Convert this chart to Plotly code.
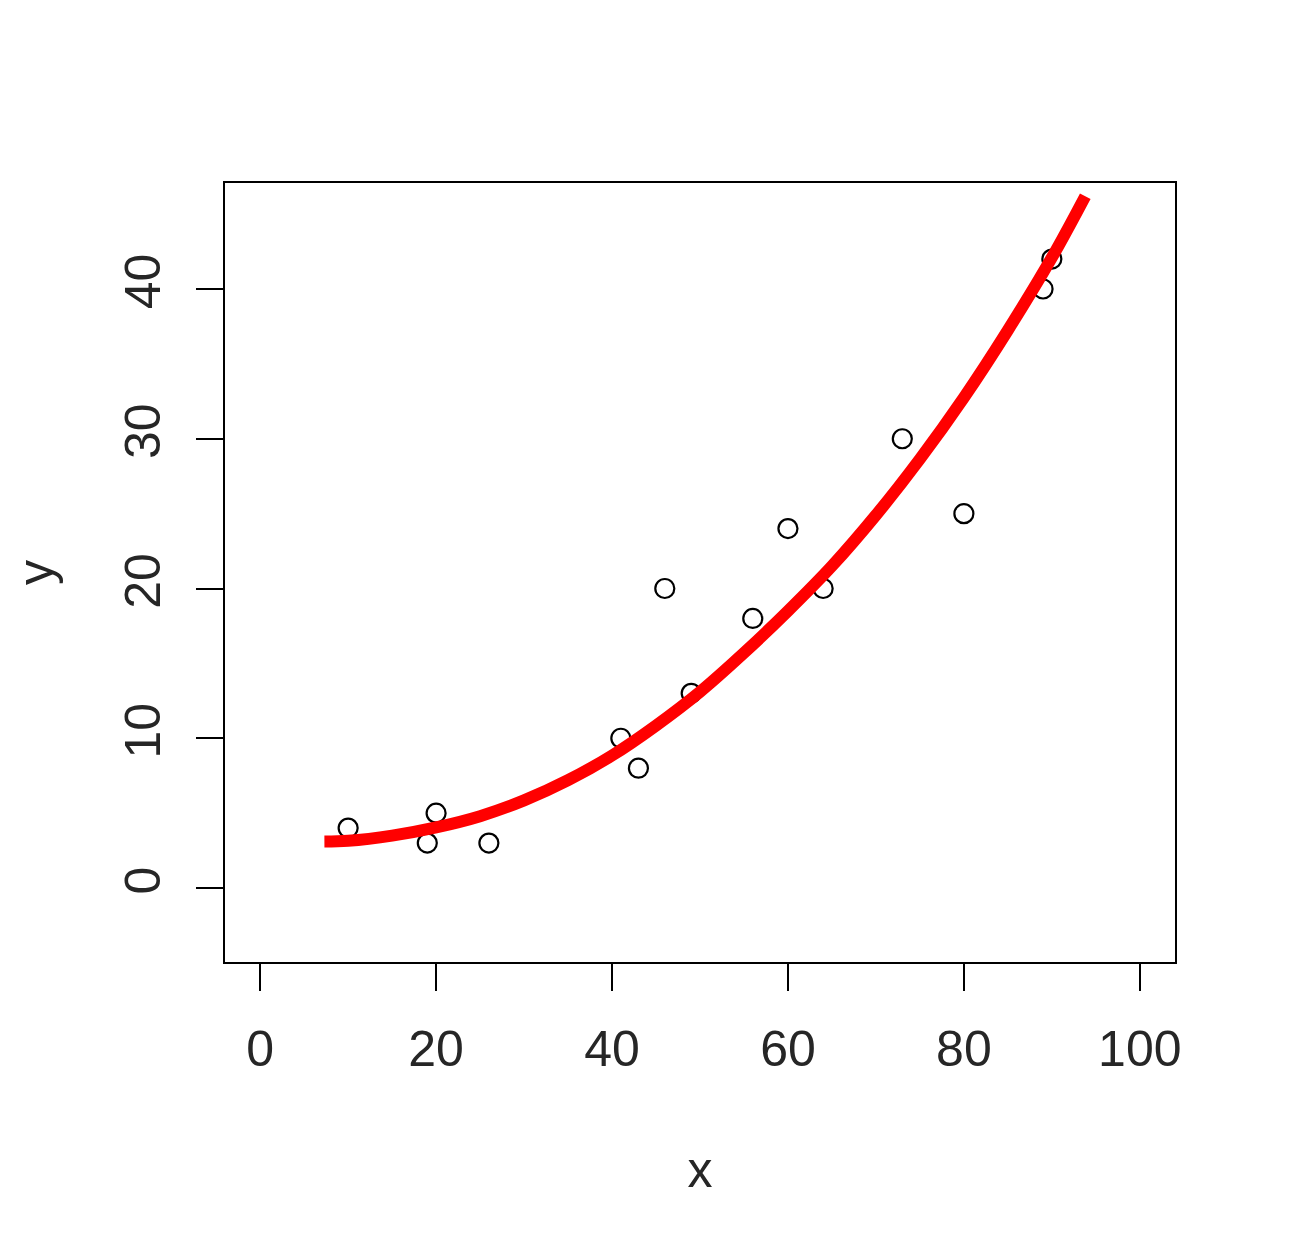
import plotly.graph_objects as go

# Observed points
x_pts = [10, 19, 20, 26, 41, 43, 46, 49, 56, 60, 64, 73, 80, 89, 90]
y_pts = [4, 3, 5, 3, 10, 8, 20, 13, 18, 24, 20, 30, 25, 40, 42]

# Fitted curve
x_fit = [7.3, 10, 15, 20, 25, 30, 35, 40, 45, 50, 55, 60, 65, 70, 75, 80, 85, 90, 93.8]
y_fit = [3.1, 3.15, 3.5, 4.05, 4.8, 5.85, 7.2, 8.85, 10.85, 13.1, 15.7, 18.5, 21.5, 24.9, 28.65, 32.75, 37.25, 42.1, 46.2]

x_ticks = [0, 20, 40, 60, 80, 100]
y_ticks = [0, 10, 20, 30, 40]

FONT = "Liberation Sans, Arial, sans-serif"
TXT = "#262626"

fig = go.Figure()
fig.add_trace(go.Scatter(
    x=x_pts, y=y_pts, mode="markers",
    marker=dict(symbol="circle-open", size=19, color="black",
                line=dict(width=2.2, color="black")),
    showlegend=False, hoverinfo="x+y"))
fig.add_trace(go.Scatter(
    x=x_fit, y=y_fit, mode="lines",
    line=dict(color="#ff0000", width=12, shape="spline", smoothing=1.0),
    showlegend=False))

axis_common = dict(
    showgrid=False, zeroline=False, automargin=False,
    showline=True, mirror=True, linecolor="black", linewidth=2,
    ticks="outside", ticklen=27, tickwidth=2, tickcolor="black",
    tickfont=dict(family=FONT, size=50, color=TXT),
)

fig.update_layout(
    template="none",
    width=1300, height=1241,
    margin=dict(l=217, r=133, t=175, b=287, pad=0),
    paper_bgcolor="white", plot_bgcolor="white",
    font=dict(family=FONT, color=TXT),
    xaxis=dict(range=[-4, 104], tickvals=x_ticks,
               ticklabelstandoff=15,
               title=dict(text="x", font=dict(family=FONT, size=50, color=TXT),
                          standoff=76),
               **axis_common),
    yaxis=dict(range=[-4.94, 47.08], tickvals=y_ticks, tickangle=-90,
               ticklabelstandoff=16,
               title=dict(text="y", font=dict(family=FONT, size=50, color=TXT),
                          standoff=81),
               **axis_common),
)

fig.write_html("out.html")
